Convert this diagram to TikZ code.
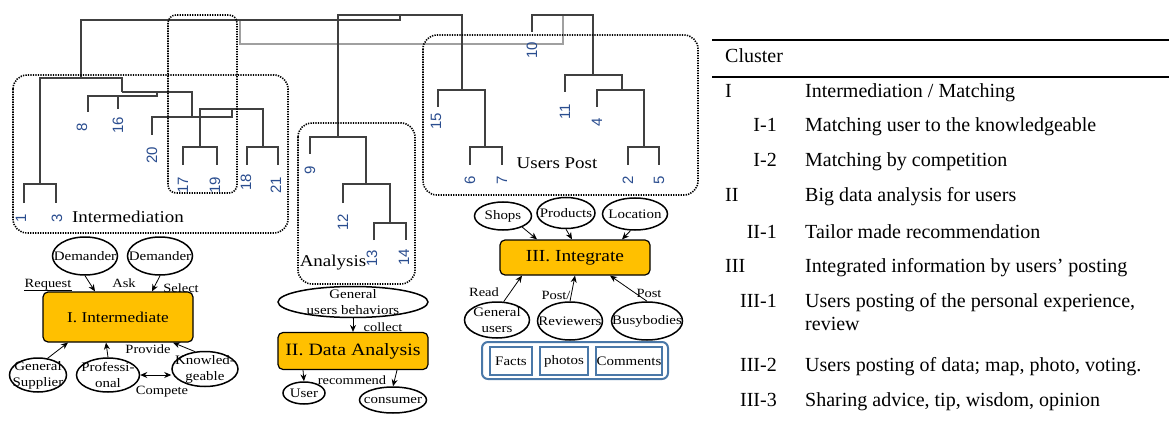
\documentclass[tikz,border=0pt]{standalone}
\usepackage{fontspec}
\setmainfont{Liberation Serif}
\newfontfamily\dfont[FakeStretch=1.15]{Liberation Serif}
\newfontfamily\digitfont{Liberation Sans}
\usetikzlibrary{arrows.meta,shapes.geometric}
\definecolor{dendro}{HTML}{404040}
\definecolor{lightdendro}{HTML}{A0A0A0}
\definecolor{digitblue}{HTML}{2A4D8F}
\definecolor{boxorange}{HTML}{FFC000}
\definecolor{frameblue}{HTML}{4A78A8}
\tikzset{
 dend/.style={draw=dendro, line width=1.2pt},
 lightd/.style={draw=lightdendro, line width=1.2pt},
 clusterbox/.style={draw=black, line width=1.6pt, dash pattern=on 1.3pt off 1.2pt, rounded corners=14pt},
 leaf/.style={font=\digitfont\fontsize{15}{15}\selectfont, text=digitblue, rotate=90, inner sep=0pt},
 ctitle/.style={font=\dfont\fontsize{16.5}{16.5}\selectfont, inner sep=0pt},
 ell/.style={ellipse, draw=black, line width=1.5pt, inner sep=0pt},
 etext/.style={font=\dfont\fontsize{13}{16}\selectfont, align=center, inner sep=0pt},
 mainbox/.style={draw=black, fill=boxorange, rounded corners=5pt, line width=1.2pt, inner sep=0pt},
 arr/.style={-{Stealth[length=7pt,width=6pt]}, line width=0.8pt},
 arrtwo/.style={{Stealth[length=7pt,width=6pt]}-{Stealth[length=7pt,width=6pt]}, line width=0.8pt},
 lbl/.style={font=\dfont\fontsize{12.6}{12.6}\selectfont, inner sep=0pt},
 tab/.style={font=\fontsize{20}{23}\selectfont, inner sep=0pt},
 inbox/.style={draw=frameblue, line width=1.5pt, inner sep=0pt, minimum height=28pt, font=\dfont\fontsize{13}{13}\selectfont},
}
\begin{document}
\begin{tikzpicture}[x=1pt,y=-1pt]
\fill[white] (0,0) rectangle (1169,422);
\useasboundingbox (0,0) rectangle (1169,422);

% ---------------- dendrogram ----------------
\draw[lightd] (240,20)--(240,44)--(563,44)--(563,15);
\draw[dend] (81,78)--(81,20)--(400,20)--(400,15);
\draw[dend] (338,137)--(338,15)--(462,15)--(462,90);
\draw[dend] (532,32)--(532,15)--(593,15)--(593,75);
% left cluster
\draw[dend] (40,184)--(40,78)--(122,78)--(122,92);
\draw[dend] (24,203)--(24,184)--(56,184)--(56,203);
\draw[dend] (88,112)--(88,96)--(157,96)--(157,92);
\draw[dend] (118,109)--(118,96);
\draw[dend] (122,92)--(192,92)--(192,117);
\draw[dend] (152,135)--(152,117)--(232,117)--(232,109);
\draw[dend] (200,147)--(200,109)--(263,109)--(263,147);
\draw[dend] (183,165)--(183,147)--(217,147)--(217,165);
\draw[dend] (247,165)--(247,147)--(278,147)--(278,165);
% analysis
\draw[dend] (310,154)--(310,137)--(366,137)--(366,184);
\draw[dend] (343,203)--(343,184)--(390,184)--(390,223);
\draw[dend] (374,240)--(374,223)--(406,223)--(406,240);
% users post
\draw[dend] (438,107)--(438,90)--(485,90)--(485,147);
\draw[dend] (470,165)--(470,147)--(502,147)--(502,165);
\draw[dend] (565,92)--(565,75)--(622,75)--(622,90);
\draw[dend] (597,107)--(597,90)--(644,90)--(644,147);
\draw[dend] (628,165)--(628,147)--(659,147)--(659,165);

% leaf labels
\node[leaf] (l1) at (21,218) {1};
\node[leaf] (l3) at (57,218) {3};
\node[leaf] (l8) at (82,127) {8};
\node[leaf] (l16) at (118,125) {16};
\node[leaf] (l20) at (152,155) {20};
\node[leaf] (l17) at (183,185) {17};
\node[leaf] (l19) at (215,185) {19};
\node[leaf] (l18) at (246,182) {18};
\node[leaf] (l21) at (276,185) {21};
\node[leaf] (l9) at (310,170) {9};
\node[leaf] (l12) at (343,222) {12};
\node[leaf] (l13) at (372,258) {13};
\node[leaf] (l14) at (404,257) {14};
\node[leaf] (l15) at (436,121) {15};
\node[leaf] (l6) at (470,180) {6};
\node[leaf] (l7) at (502,180) {7};
\node[leaf] (l10) at (532,50) {10};
\node[leaf] (l11) at (565,112) {11};
\node[leaf] (l4) at (597,122) {4};
\node[leaf] (l2) at (628,180) {2};
\node[leaf] (l5) at (659,180) {5};

% cluster boxes
\draw[clusterbox] (13,75) rectangle (288,233);
\draw[clusterbox, rounded corners=8pt] (168,15) rectangle (237,193);
\draw[clusterbox] (298,123) rectangle (415,284);
\draw[clusterbox] (423,35) rectangle (698,195);
\node[ctitle] (tint) at (128,217) {Intermediation};
\node[ctitle] (tana) at (333,263) {Analysis};
\node[ctitle] (tusr) at (557,163) {Users Post};

% ---------------- I. Intermediate ----------------
\node[ell, minimum width=65pt, minimum height=38pt, label={[etext]center:Demander}] (dem1) at (85,256) {};
\node[ell, minimum width=65pt, minimum height=38pt, label={[etext]center:Demander}] (dem2) at (160,256) {};
\node[mainbox, minimum width=150pt, minimum height=50pt, font=\dfont\fontsize{15}{15}\selectfont] (inter) at (118,317) {I. Intermediate};
\node[ell, minimum width=57pt, minimum height=34pt, label={[etext]center:{General\\Supplier}}] (gs) at (38,375) {};
\node[ell, minimum width=63pt, minimum height=34pt, label={[etext]center:{Professi-\\onal}}] (prof) at (108,375) {};
\node[ell, minimum width=66pt, minimum height=35pt, label={[etext]center:{Knowled-\\geable}}] (know) at (205,369) {};
\draw[arr] (dem1.south) -- ([xshift=-23pt]inter.north);
\draw[arr] (dem2.south) -- ([xshift=34pt]inter.north);
\draw[arr] (gs.60) -- ([xshift=-50pt]inter.south);
\draw[arr] (prof.north) -- ([xshift=-12pt]inter.south);
\draw[arr] (know.120) -- ([xshift=55pt]inter.south);
\draw[arrtwo] (prof.east) -- (prof.east -| know.west);
\node[lbl] (req) at (48,285) {Request};
\draw[line width=0.8pt] (req.south west) -- (req.south east);
\node[lbl] (ask) at (124,283) {Ask};
\node[lbl] (sel) at (181,288) {Select};
\node[lbl] (prov) at (148,349) {Provide};
\node[lbl] (comp) at (162,392) {Compete};

% ---------------- II. Data Analysis ----------------
\node[ell, minimum width=150pt, minimum height=31pt, label={[etext]center:{General\\users behaviors}}] (gub) at (353,302) {};
\node[mainbox, minimum width=150pt, minimum height=37pt, font=\dfont\fontsize{17.3}{17.3}\selectfont] (da) at (353,351) {II. Data Analysis};
\draw[arr] (gub.south) -- (da.north);
\node[lbl] (coll) at (383,327) {collect};
\node[ell, minimum width=42pt, minimum height=22pt, label={[etext]center:User}] (user) at (304,393) {};
\node[ell, minimum width=67pt, minimum height=26pt, label={[etext]center:consumer}] (cons) at (393,400) {};
\draw[arr] ([xshift=-50pt]da.south) -- (user.north);
\draw[arr] ([xshift=44pt]da.south) -- (cons.north);
\node[lbl] (rec) at (352,380) {recommend};

% ---------------- III. Integrate ----------------
\node[ell, minimum width=57pt, minimum height=28pt, label={[etext]center:Shops}] (shops) at (503,216) {};
\node[ell, minimum width=58pt, minimum height=31pt, label={[etext]center:Products}] (prods) at (566,213) {};
\node[ell, minimum width=65pt, minimum height=32pt, label={[etext]center:Location}] (loc) at (635,214) {};
\node[mainbox, minimum width=150pt, minimum height=35pt, font=\dfont\fontsize{16.9}{16.9}\selectfont] (integ) at (575,257.5) {III. Integrate};
\draw[arr] (shops.-30) -- ([xshift=-38pt]integ.north);
\draw[arr] (prods.south) -- ([xshift=-3pt]integ.north);
\draw[arr] (loc.-105) -- ([xshift=47pt]integ.north);
\node[ell, minimum width=65pt, minimum height=36pt, label={[etext]center:{General\\users}}] (gu) at (497,320) {};
\node[ell, minimum width=65pt, minimum height=38pt, label={[etext]center:Reviewers}] (rev) at (570,321) {};
\node[ell, minimum width=71pt, minimum height=38pt, label={[etext]center:Busybodies}] (busy) at (647,321) {};
\draw[arr] (gu.70) -- ([xshift=-53pt]integ.south);
\draw[arr] (rev.north) -- (integ.south);
\draw[arr] (busy.north) -- ([xshift=35pt]integ.south);
\node[lbl] (read) at (484,292) {Read};
\node[lbl] (post1) at (556,295) {Post/};
\node[lbl] (post2) at (649,293) {Post};
\node[draw=frameblue, line width=2pt, rounded corners=6pt, minimum width=186pt, minimum height=37pt, inner sep=0pt] (frame) at (575,360.5) {};
\node[inbox, minimum width=42pt] (facts) at (511,361) {Facts};
\node[inbox, minimum width=48pt] (photos) at (564,361) {photos};
\node[inbox, minimum width=66pt] (comm) at (629,361) {Comments};

% ---------------- table ----------------
\draw[line width=2pt] (712,40) -- (1169,40);
\draw[line width=2pt] (712,77) -- (1169,77);
\node[tab, anchor=base west] (hcl) at (725,63) {Cluster};
\node[tab, anchor=base west] (r1a) at (725,98) {I};
\node[tab, anchor=base west] (r1b) at (805,98) {Intermediation / Matching};
\node[tab, anchor=base east] (r2a) at (777,132) {I-1};
\node[tab, anchor=base west] (r2b) at (805,132) {Matching user to the knowledgeable};
\node[tab, anchor=base east] (r3a) at (777,167) {I-2};
\node[tab, anchor=base west] (r3b) at (805,167) {Matching by competition};
\node[tab, anchor=base west] (r4a) at (725,201) {II};
\node[tab, anchor=base west] (r4b) at (805,201) {Big data analysis for users};
\node[tab, anchor=base east] (r5a) at (777,238) {II-1};
\node[tab, anchor=base west] (r5b) at (805,238) {Tailor made recommendation};
\node[tab, anchor=base west] (r6a) at (725,272) {III};
\node[tab, anchor=base west] (r6b) at (805,272) {Integrated information by users’ posting};
\node[tab, anchor=base east] (r7a) at (777,307) {III-1};
\node[tab, anchor=base west] (r7b) at (805,307) {Users posting of the personal experience,};
\node[tab, anchor=base west] (r7c) at (805,330) {review};
\node[tab, anchor=base east] (r8a) at (777,371) {III-2};
\node[tab, anchor=base west] (r8b) at (805,371) {Users posting of data; map, photo, voting.};
\node[tab, anchor=base east] (r9a) at (777,406) {III-3};
\node[tab, anchor=base west] (r9b) at (805,406) {Sharing advice, tip, wisdom, opinion};
\end{tikzpicture}
\end{document}
